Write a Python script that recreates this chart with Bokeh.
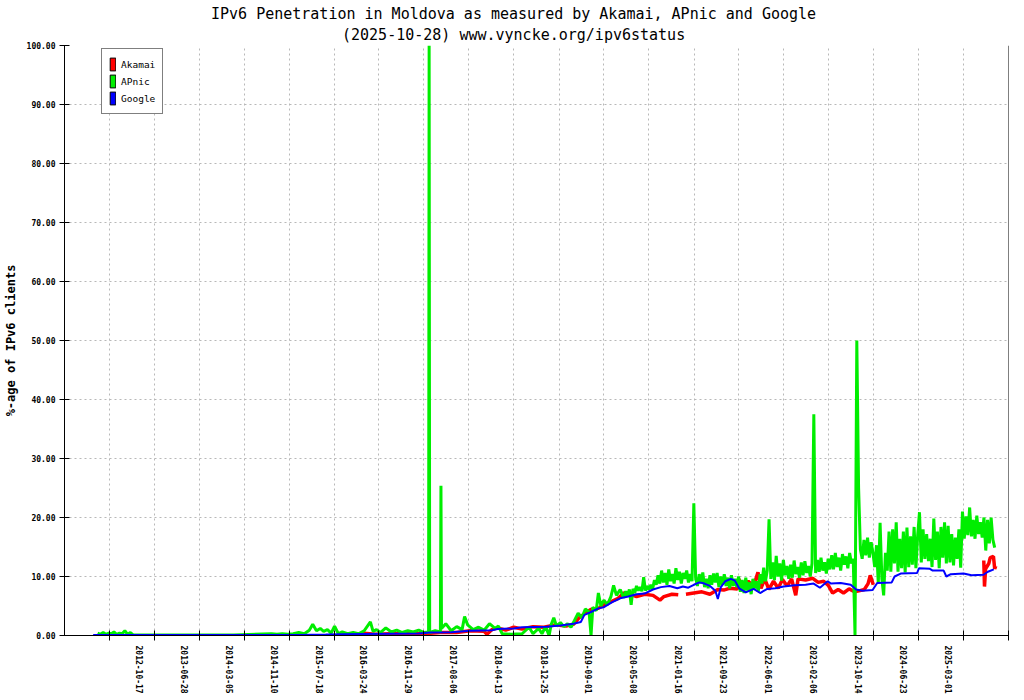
import pandas as pd
from bokeh.plotting import figure
from bokeh.models import (ColumnDataSource, Range1d, FixedTicker, LinearAxis, Span,
                          CustomJSTickFormatter, PrintfTickFormatter, Legend,
                          LegendItem, Title)
from bokeh.embed import file_html
from bokeh.resources import INLINE

MONO = "DejaVu Sans Mono"

title_1 = "IPv6 Penetration in Moldova as measured by Akamai, APnic and Google"
title_2 = "(2025-10-28) www.vyncke.org/ipv6status"

# x axis: gnuplot puts a tick every ~251 days, labels only on these
tick_labels = ["2012-10-17", "2013-06-28", "2014-03-05", "2014-11-10", "2015-07-18",
               "2016-03-24", "2016-11-29", "2017-08-06", "2018-04-13", "2018-12-25",
               "2019-09-01", "2020-05-08", "2021-01-16", "2021-09-23", "2022-06-01",
               "2023-02-06", "2023-10-14", "2024-06-23", "2025-03-01"]
blank_ticks = ["2012-02-09", "2025-11-07"]
x_start, x_end = "2011-06-03", "2025-11-07"
y_ticks = [0, 10, 20, 30, 40, 50, 60, 70, 80, 90, 100]

nan = float("nan")

akamai_dates = ["2015-09-01", "2015-11-01", "2016-01-01", "2016-03-01", "2016-06-01", "2016-09-01",
                "2016-12-01", "2017-03-01", "2017-06-01", "2017-08-15", "2017-11-01", "2017-11-17",
                "2017-12-15", "2018-01-15", "2018-03-01", "2018-04-15", "2018-06-01", "2018-08-01",
                "2018-10-01", "2018-12-01", "2019-02-01", "2019-03-15", "2019-04-15", "2019-05-20",
                "2019-06-20", "2019-08-01", "2019-09-01", "2019-10-15", "2019-11-20", "2019-12-20",
                "2020-01-20", "2020-03-01", "2020-04-15", "2020-06-01", "2020-07-10", "2020-08-01",
                "2020-09-15", "2020-10-20", "2020-11-10", "2020-12-02", "2021-01-15", "2021-03-01",
                "2021-04-15", "2021-05-29", "2021-07-01", "2021-08-01", "2021-09-15", "2021-09-22",
                "2021-10-15", "2021-11-15", "2021-12-15", "2022-01-08", "2022-01-25", "2022-02-15",
                "2022-03-10", "2022-04-05", "2022-05-01", "2022-05-25", "2022-06-20", "2022-07-15",
                "2022-08-07", "2022-08-20", "2022-10-01", "2022-11-10", "2022-12-10", "2023-01-10",
                "2023-02-05", "2023-03-01", "2023-04-01", "2023-05-01", "2023-06-01", "2023-07-01",
                "2023-08-01", "2023-08-25", "2023-09-15", "2023-09-27", "2023-10-14", "2024-06-01",
                "2025-06-22", "2025-06-26", "2025-07-02", "2025-07-20", "2025-07-28", "2025-08-15",
                "2025-08-22", "2025-08-28"]
akamai_pct = [0.2, 0.1, 0.4, 0.2, 0.3, 0.4,
              0.3, 0.5, 0.5, 0.8, 0.7, 0.2,
              1.0, 1.3, 0.9, 1.4, 1.1, 1.5,
              1.4, 1.8, 1.6, 1.9, 3.0, 3.8,
              4.4, 4.6, 5.2, 5.8, 6.3, 7.2,
              7.0, 6.6, 7.0, 6.8, 6.0, 6.6,
              7.0, 6.9, nan, 7.0, 7.2, 7.4,
              7.0, 7.8, 7.7, 8.0, 7.9, 9.6,
              8.2, 9.2, 8.4, 10.7, 8.0, 9.6,
              7.8, 9.2, 8.0, 9.5, 8.4, 9.6,
              6.8, 9.6, 9.4, 9.7, 9.0, 9.2,
              8.5, 7.2, 7.8, 7.2, 7.9, 7.4,
              7.6, 7.8, 8.8, 10.2, 8.6, nan,
              12.7, 8.3, 11.3, 12.2, 13.2, 13.4,
              11.3, 11.8]

# APnic up to end of 2019, irregular dates
apnic_dates = ["2011-12-05", "2011-12-20", "2012-01-05", "2012-01-20", "2012-02-05", "2012-02-20",
               "2012-03-05", "2012-03-20", "2012-04-05", "2012-04-20", "2012-05-05", "2012-05-20",
               "2012-06-05", "2012-06-20", "2013-01-01", "2014-01-01", "2014-08-01", "2014-09-01",
               "2014-10-01", "2014-11-01", "2014-12-01", "2015-01-01", "2015-02-01", "2015-03-01",
               "2015-03-20", "2015-04-10", "2015-05-01", "2015-05-20", "2015-06-10", "2015-07-01",
               "2015-07-20", "2015-08-10", "2015-09-01", "2015-10-01", "2015-11-01", "2015-12-01",
               "2016-01-01", "2016-02-05", "2016-02-20", "2016-03-10", "2016-04-01", "2016-05-01",
               "2016-06-01", "2016-07-01", "2016-08-01", "2016-09-01", "2016-10-01", "2016-11-01",
               "2016-12-01", "2016-12-26", "2016-12-29", "2017-01-01", "2017-02-01", "2017-03-02",
               "2017-03-05", "2017-03-08", "2017-04-01", "2017-05-01", "2017-06-01", "2017-07-01",
               "2017-07-15", "2017-08-01", "2017-09-01", "2017-10-01", "2017-11-01", "2017-12-01",
               "2018-01-01", "2018-01-20", "2018-02-10", "2018-04-01", "2018-06-01", "2018-07-10",
               "2018-08-01", "2018-09-01", "2018-09-20", "2018-10-10", "2018-10-30", "2018-11-10",
               "2018-11-25", "2018-12-10", "2019-01-01", "2019-01-20", "2019-02-10", "2019-03-01",
               "2019-03-20", "2019-04-10", "2019-05-01", "2019-05-20", "2019-06-10", "2019-06-21",
               "2019-07-01", "2019-07-20", "2019-08-01", "2019-08-15", "2019-09-01", "2019-09-20",
               "2019-10-10", "2019-10-25", "2019-11-10", "2019-12-01", "2019-12-20"]
apnic_pct = [0.4, 0.2, 0.5, 0.2, 0.4, 0.3,
             0.6, 0.2, 0.4, 0.3, 0.8, 0.2,
             0.5, 0.1, 0.1, 0.1, 0.3, 0.2,
             0.3, 0.2, 0.3, 0.5, 0.3, 0.9,
             1.9, 0.8, 1.2, 0.7, 1.0, 0.4,
             1.6, 0.3, 0.6, 0.3, 0.5, 0.3,
             0.8, 2.3, 0.7, 1.0, 0.5, 1.3,
             0.6, 0.9, 0.5, 0.8, 0.6, 0.9,
             0.5, 0.6, 100.0, 0.5, 0.8, 0.6,
             25.4, 1.2, 2.0, 0.8, 1.5, 1.0,
             3.2, 1.8, 1.0, 1.4, 0.9, 2.0,
             1.2, 1.6, 0.3, 0.2, 0.3, 1.4,
             0.3, 1.2, 0.3, 1.5, 0.0, 1.8,
             3.0, 1.6, 2.2, 1.5, 2.0, 1.4,
             2.5, 3.8, 3.0, 4.5, 4.0, 0.0,
             4.8, 4.2, 7.2, 5.0, 6.0, 5.2,
             6.6, 8.5, 6.8, 7.8, 6.4]

# APnic from 2020 on, read every 10 days (noisy band)
apnic_10d_start = "2020-01-01"
apnic_10d_pct = [7.5, 6.6, 7.8, 5.2, 7.9, 7.2, 8.4, 7.6, 8.2, 7.5,
                 9.9, 7.6, 8.4, 7.8, 8.6, 7.9, 9.4, 8.6, 10.2, 8.8,
                 11.0, 9.0, 10.6, 8.6, 11.2, 9.2, 10.4, 8.8, 11.4, 9.4,
                 10.8, 8.8, 10.6, 9.6, 11.0, 9.0, 10.4, 9.2,
                 22.4,
                 9.8, 8.4, 10.4, 8.8, 10.7, 8.2, 9.6, 8.0, 10.2, 8.6, 10.5,
                 9.0, 10.6, 8.2, 10.0, 8.6, 10.4, 8.4, 9.8, 8.0, 10.2, 8.4, 9.6, 8.2, 10.0,
                 7.4, 9.4, 7.2, 9.8, 7.6, 9.0, 7.0, 9.6, 8.0, 9.2, 7.4,
                 10.4, 8.8, 11.5, 9.2, 11.0,
                 19.7,
                 9.6, 12.4, 9.4, 13.5, 10.0, 12.2, 9.3, 12.8, 10.2, 11.8, 9.6,
                 12.0, 9.8, 12.7, 10.4, 11.6, 9.8, 12.4, 10.2, 12.6, 10.6, 11.8, 10.0, 12.2,
                 37.5,
                 10.6, 12.8, 10.8, 13.2, 11.0, 12.4, 10.5, 13.0, 11.2,
                 13.6, 11.2, 14.0, 11.6, 13.2, 11.0, 13.8, 12.0, 13.4, 11.4, 14.0, 12.2, 13.0,
                 0.0, 50.0, 25.0,
                 14.6, 13.0, 16.2, 13.6, 16.6, 13.2, 15.8, 14.0,
                 11.6, 15.3, 8.8, 19.1, 9.6, 6.8, 14.0,
                 11.0, 17.6, 10.8, 18.0, 12.2,
                 19.2, 10.8, 16.4, 11.4, 17.6,
                 10.7, 18.3, 11.6, 16.8, 12.0,
                 18.4, 11.4, 17.0, 20.9,
                 12.4, 18.0, 13.0, 17.2, 12.6, 16.4,
                 11.6, 19.8, 12.8, 17.6, 11.4, 18.4, 13.2, 19.2, 12.2,
                 18.6, 12.4, 17.2, 11.9, 16.6, 13.0, 18.0, 11.5,
                 21.0, 16.4, 20.2, 17.0, 21.7, 16.8, 19.6,
                 16.4, 20.3, 17.2, 19.2, 16.6,
                 20.0, 14.4, 19.6, 15.6, 20.0, 16.2, 14.9]

google_dates = ["2011-11-10", "2012-06-01", "2013-01-01", "2014-01-01", "2015-01-01", "2015-06-01",
                "2015-09-01", "2016-01-01", "2016-06-01", "2016-11-01", "2017-01-01", "2017-05-01",
                "2017-08-15", "2017-12-15", "2018-01-15", "2018-04-15", "2018-06-01", "2018-10-15",
                "2019-01-01", "2019-03-15", "2019-04-25", "2019-05-15", "2019-06-15", "2019-08-01",
                "2019-09-01", "2019-10-15", "2019-12-01", "2020-01-15", "2020-03-01", "2020-04-15",
                "2020-06-01", "2020-07-15", "2020-09-01", "2020-10-15", "2020-11-15", "2020-12-15",
                "2021-01-15", "2021-02-15", "2021-03-15", "2021-04-15", "2021-05-15", "2021-05-29",
                "2021-06-15", "2021-07-10", "2021-08-10", "2021-09-01", "2021-09-25", "2021-11-01",
                "2021-12-15", "2022-01-20", "2022-03-01", "2022-04-15", "2022-06-01", "2022-08-01",
                "2022-10-01", "2022-11-15", "2022-12-20", "2023-02-01", "2023-02-20", "2023-04-15",
                "2023-06-10", "2023-07-10", "2023-08-15", "2023-10-10", "2023-11-05", "2024-01-25",
                "2024-02-10", "2024-03-15", "2024-06-15", "2024-06-25", "2024-08-25", "2024-09-10",
                "2024-11-10", "2024-11-25", "2024-12-20", "2025-03-01", "2025-04-15", "2025-06-20",
                "2025-07-15", "2025-08-17"]
google_pct = [0.1, 0.1, 0.1, 0.1, 0.1, 0.15,
              0.2, 0.25, 0.3, 0.35, 0.5, 0.55,
              0.8, 0.9, 1.1, 1.2, 1.4, 1.5,
              1.7, 2.0, 2.3, 3.5, 3.9, 4.6,
              4.8, 5.6, 6.3, 6.6, 7.0, 7.1,
              7.8, 8.2, 8.4, 8.0, 8.3, 8.1,
              8.6, 9.0, 8.8, 8.4, 7.6, 6.2,
              8.2, 9.2, 9.6, 9.3, 8.0, 7.3,
              7.9, 7.2, 7.9, 8.0, 8.3, 8.5,
              8.6, 8.8, 8.1, 9.2, 8.8, 8.9,
              8.6, 7.8, 7.6, 7.7, 8.9, 9.0,
              10.0, 10.5, 10.6, 11.4, 11.3, 11.0,
              11.0, 10.0, 10.4, 10.5, 10.2, 10.3,
              10.8, 11.2]

apnic_x = list(pd.to_datetime(apnic_dates)) + list(
    pd.date_range(apnic_10d_start, periods=len(apnic_10d_pct), freq="10D"))
apnic_y = apnic_pct + apnic_10d_pct

series = [("Akamai", pd.to_datetime(akamai_dates), akamai_pct, "#ff0000", 3.5),
          ("APnic", apnic_x, apnic_y, "#00ee00", 3),
          ("Google", pd.to_datetime(google_dates), google_pct, "#0000ff", 2)]


def ms(d):
    return (pd.Timestamp(d) - pd.Timestamp("1970-01-01")).total_seconds() * 1000.0


label_shift = 84 * 86400000.0  # gnuplot draws the rotated labels left of the tick

p = figure(width=1022, height=698, x_axis_type="datetime", title=None,
           x_range=Range1d(ms(x_start), ms(x_end)), y_range=Range1d(0, 100),
           toolbar_location=None, output_backend="svg",
           min_border_left=63, min_border_right=14, min_border_top=45, min_border_bottom=63)
p.outline_line_color = None
p.background_fill_color = "white"
p.border_fill_color = "white"

# tick marks on the date axis (labels come from a second axis below)
xa = p.xaxis[0]
xa.ticker = FixedTicker(ticks=sorted(ms(d) for d in tick_labels + blank_ticks))
xa.formatter = CustomJSTickFormatter(code="return '';")
xa.major_label_text_font_size = "1px"
xa.major_label_standoff = 0
xa.major_tick_in = 5
xa.major_tick_out = 5
xa.minor_tick_in = 0
xa.minor_tick_out = 0
xa.axis_line_color = "black"
xa.major_tick_line_color = "black"

lab = LinearAxis(ticker=FixedTicker(ticks=[ms(d) - label_shift for d in tick_labels]),
                 formatter=CustomJSTickFormatter(args=dict(labels=tick_labels),
                                                 code="return labels[index];"),
                 axis_line_color=None, major_tick_line_color=None, minor_tick_line_color=None,
                 major_tick_in=0, major_tick_out=0, minor_tick_in=0, minor_tick_out=0,
                 major_label_orientation="vertical", major_label_standoff=5,
                 major_label_text_font=MONO, major_label_text_font_size="8px",
                 major_label_text_font_style="bold", major_label_text_color="black")
p.add_layout(lab, "below")

ya = p.yaxis[0]
ya.ticker = FixedTicker(ticks=y_ticks)
ya.formatter = PrintfTickFormatter(format="%.2f")
ya.major_tick_in = 5
ya.major_tick_out = 5
ya.minor_tick_in = 0
ya.minor_tick_out = 0
ya.major_label_standoff = 4
ya.major_label_text_font = MONO
ya.major_label_text_font_size = "8px"
ya.major_label_text_font_style = "bold"
ya.major_label_text_color = "black"
ya.axis_line_color = "black"
ya.major_tick_line_color = "black"
ya.axis_label = "%-age of IPv6 clients"
ya.axis_label_text_font = MONO
ya.axis_label_text_font_size = "12px"
ya.axis_label_text_font_style = "bold"
ya.axis_label_text_color = "black"
ya.axis_label_standoff = 6

# right border line of the plot box (no top line in the original)
p.add_layout(Span(location=ms(x_end), dimension="height", line_color="black", line_width=1))

for g in (p.xgrid[0], p.ygrid[0]):
    g.grid_line_color = "#b8b8b8"
    g.grid_line_dash = "2 3"
    g.grid_line_width = 1

items = []
for name, xs, pct, color, lw in series:
    src = ColumnDataSource(dict(x=xs, y=pct))
    p.line("x", "y", source=src, line_color=color, line_width=lw)
    # legend-only swatch: one undefined box so that the legend draws a filled rectangle
    sw = p.quad(left=[nan], right=[nan], top=[nan], bottom=[nan],
                fill_color=color, line_color="black")
    items.append(LegendItem(label=name, renderers=[sw]))

legend = Legend(items=items, location=(37, 521))
legend.border_line_color = "black"
legend.border_line_width = 1
legend.background_fill_color = "white"
legend.background_fill_alpha = 1
legend.padding = 7
legend.spacing = 1
legend.margin = 0
legend.glyph_width = 7
legend.glyph_height = 16
legend.label_height = 16
legend.label_standoff = 5
legend.label_text_font = MONO
legend.label_text_font_size = "9.5px"
legend.label_text_color = "black"
p.add_layout(legend)

p.add_layout(Title(text=title_2, align="left", offset=277.5, standoff=3, text_font=MONO,
                   text_font_size="15px", text_font_style="normal", text_color="black"), "above")
p.add_layout(Title(text=title_1, align="left", offset=146.5, standoff=0, text_font=MONO,
                   text_font_size="15px", text_font_style="normal", text_color="black"), "above")

open("out.html", "w").write(file_html(p, INLINE))
